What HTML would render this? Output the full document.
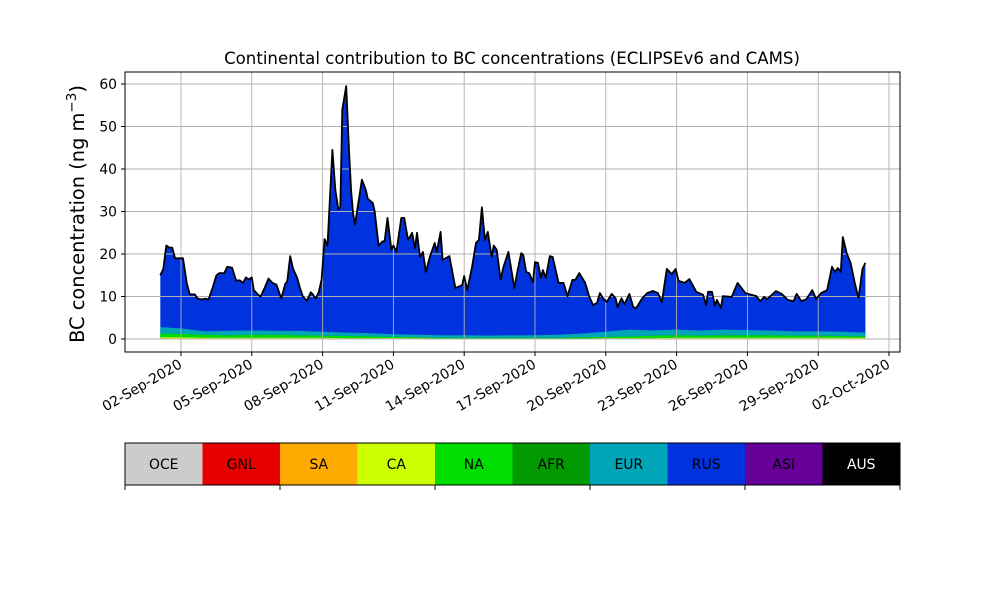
<!DOCTYPE html>
<html><head><meta charset="utf-8"><style>
body{margin:0;background:#fff;}
svg text{font-family:"DejaVu Sans","Liberation Sans",sans-serif;}
</style></head><body>
<svg id="chart" width="1000" height="600" xmlns="http://www.w3.org/2000/svg">
<rect width="1000" height="600" fill="#fff"/>
<text x="512" y="64" font-size="16.6" text-anchor="middle">Continental contribution to BC concentrations (ECLIPSEv6 and CAMS)</text>
<text transform="translate(84,214) rotate(-90)" font-size="19.4" text-anchor="middle">BC concentration (ng m<tspan dy="-8" font-size="13.5">−3</tspan><tspan dy="8">)</tspan></text>
<g id="plot"></g>
<g id="cbar"></g>
</svg>
<script>
const hours=[3,6,9,12,15,18,23,26,30,33,38,41,45,49,52,56,60,63,68,71,76,80,84,87,90,93,96,98,102,105,109,113,117,121,126,130,132,135,138,142,145,148,152,156,158,161,164,167,170,173,178,181,184,186,188,192,195,197,199,201,205,208,212,214,219,221,225,229,231,234,238,240,243,248,251,255,259,262,264,267,270,273,277,282,284,288,290,297,303,308,310,312,315,320,324,327,330,333,336,340,342,345,349,352,357,363,366,370,372,375,378,382,384,387,390,392,395,399,402,408,413,417,422,425,429,435,439,443,447,450,453,457,462,466,468,472,475,480,484,487,493,498,504,509,513,518,523,527,530,536,541,548,555,558,560,564,567,569,573,575,584,590,598,604,609,613,617,620,629,635,641,647,650,655,660,666,670,675,681,686,689,692,695,697,701,705,709,713,717,720];
const total=[15,16.5,22,21.5,21.5,19,19,19,13,10.5,10.5,9.5,9.3,9.5,9.3,12,15,15.5,15.5,17,16.8,13.8,13.8,13.2,14.5,14,14.5,11.5,10.5,10,12,14.2,13.2,12.8,9.5,13,13.5,19.5,16.5,14.5,12,10,9,11,10.5,9.5,11,14,23.5,22,44.5,35,30.5,31,54,59.5,44,35,29.5,27,33,37.5,35,33,32,30,22,23,23,28.5,21,22,20.5,28.5,28.5,23.3,25,21.4,25,19.3,20.5,15.8,19.3,22.6,20.5,25.2,18.6,19.5,12,12.5,12.7,14.8,11.5,17,22.6,23.3,31,23.3,25.2,19.3,22,21,14,17,20.5,12,15.8,20.2,19.8,15.8,15.5,13.4,18.1,17.9,14.4,16.2,14.4,19.5,19.3,13.2,13.2,10.1,13.9,13.9,15.5,13.2,10.1,8,8.5,10.8,9.6,8.7,10.6,9.6,7.5,9.6,8.2,10.6,7.5,7.3,9.6,10.8,11.3,10.8,8.7,16.5,15.3,16.5,13.7,13.2,14.1,11.1,10.4,8,11.1,11.1,7.8,9.2,7.3,10.1,9.9,13.2,10.8,10.4,10.1,8.9,9.9,9.4,11.3,10.6,9.2,8.9,10.6,8.9,9.4,11.5,9.4,10.8,11.5,17,15.8,16.7,15.8,24,20.2,17.9,13.4,9.6,16.5,17.9];
const dayHours=[3,24,48,72,96,120,144,168,192,216,240,264,288,312,336,360,384,408,432,456,480,504,528,552,576,600,624,648,672,696,720];
const naCum=[1.3,1.2,1.0,0.9,1.0,1.0,0.9,0.8,0.7,0.6,0.5,0.4,0.3,0.3,0.3,0.3,0.3,0.3,0.4,0.5,0.6,0.8,0.9,0.8,0.9,0.9,0.9,0.8,0.8,0.7,0.6];
const eur=[1.5,1.3,0.8,1.0,1.0,0.9,1.0,0.9,0.8,0.8,0.6,0.6,0.6,0.6,0.5,0.6,0.6,0.7,0.9,1.2,1.6,1.2,1.3,1.2,1.3,1.2,1.1,1.0,1.0,1.0,0.9];
const minor=[0.4,0.4,0.3,0.3,0.3,0.3,0.3,0.3,0.2,0.2,0.2,0.2,0.1,0.1,0.1,0.1,0.1,0.1,0.1,0.2,0.2,0.2,0.3,0.3,0.3,0.3,0.3,0.3,0.3,0.3,0.3];
const yTicks=[0,10,20,30,40,50,60];
const xTickHours=[24,96,168,240,312,384,456,528,600,672,744];
const xTickLabels=["02-Sep-2020","05-Sep-2020","08-Sep-2020","11-Sep-2020","14-Sep-2020","17-Sep-2020","20-Sep-2020","23-Sep-2020","26-Sep-2020","29-Sep-2020","02-Oct-2020"];
const regions=["OCE","GNL","SA","CA","NA","AFR","EUR","RUS","ASI","AUS"];
const regionColors=["#cccccc","#e60000","#ffaa00","#ccff00","#00dd00","#009900","#00a5b8","#0033dd","#660099","#000000"];

const NS="http://www.w3.org/2000/svg";
const X0=125,X1=900,Y0=72,Y1=352;
const xs=h=>181+(h-24)*23.6/24;
const ys=v=>339-4.25*v;
const plot=document.getElementById('plot');
function mk(tag,attrs,parent){const e=document.createElementNS(NS,tag);for(const k in attrs)e.setAttribute(k,attrs[k]);parent.appendChild(e);return e;}
function areaPath(hs,top,bot){let d='';hs.forEach((h,i)=>{d+=(i?'L':'M')+xs(h).toFixed(1)+','+ys(top[i]).toFixed(1);});for(let i=hs.length-1;i>=0;i--)d+='L'+xs(hs[i]).toFixed(1)+','+ys(bot[i]).toFixed(1);return d+'Z';}
const zeros=hours.map(()=>0);
let a=mk('path',{d:areaPath(hours,total,zeros),fill:regionColors[7]},plot);


const z2=dayHours.map(()=>0);
const eurTop=dayHours.map((h,i)=>naCum[i]+eur[i]);
a=mk('path',{d:areaPath(dayHours,eurTop,naCum),fill:regionColors[6]},plot);


a=mk('path',{d:areaPath(dayHours,naCum,minor),fill:regionColors[4]},plot);


a=mk('path',{d:areaPath(dayHours,minor,z2),fill:regionColors[3]},plot);


yTicks.forEach(v=>{let l=mk('line',{x1:X0,x2:X1,y1:ys(v),y2:ys(v),stroke:'#b0b0b0','stroke-width':0.9},plot);


mk('line',{x1:X0-4,x2:X0,y1:ys(v),y2:ys(v),stroke:'#000'},plot);
let tx=mk('text',{x:X0-8,y:ys(v)+5,'font-size':13.9,'text-anchor':'end'},plot);tx.textContent=v;

});
xTickHours.forEach((h,i)=>{const x=xs(h);let l=mk('line',{x1:x,x2:x,y1:Y0,y2:Y1,stroke:'#b0b0b0','stroke-width':0.9},plot);


mk('line',{x1:x,x2:x,y1:Y1,y2:Y1+4,stroke:'#000'},plot);
let tx=mk('text',{transform:`translate(${x+2},${Y1+15}) rotate(-30)`,'font-size':13.9,'text-anchor':'end'},plot);tx.textContent=xTickLabels[i];

});
let d='';hours.forEach((h,i)=>{d+=(i?'L':'M')+xs(h).toFixed(1)+','+ys(total[i]).toFixed(1);});
let ln=mk('path',{d:d,fill:'none',stroke:'#000','stroke-width':1.8,'stroke-linejoin':'round'},plot);


let fr=mk('rect',{x:X0,y:Y0,width:X1-X0,height:Y1-Y0,fill:'none',stroke:'#000','stroke-width':1},plot);


const cb=document.getElementById('cbar');const cw=(X1-X0)/regions.length;
regions.forEach((r,i)=>{let c=mk('rect',{x:X0+i*cw,y:443,width:cw,height:42,fill:regionColors[i]},cb);


let t=mk('text',{x:X0+i*cw+cw/2,y:469,'font-size':13.9,'text-anchor':'middle',fill:r==='AUS'?'#fff':'#000'},cb);t.textContent=r;

});
mk('rect',{x:X0,y:443,width:X1-X0,height:42,fill:'none',stroke:'#000','stroke-width':1},cb);
for(let i=0;i<=regions.length;i+=2){mk('line',{x1:X0+i*cw,x2:X0+i*cw,y1:485,y2:490,stroke:'#000'},cb);}
</script>
</body></html>
